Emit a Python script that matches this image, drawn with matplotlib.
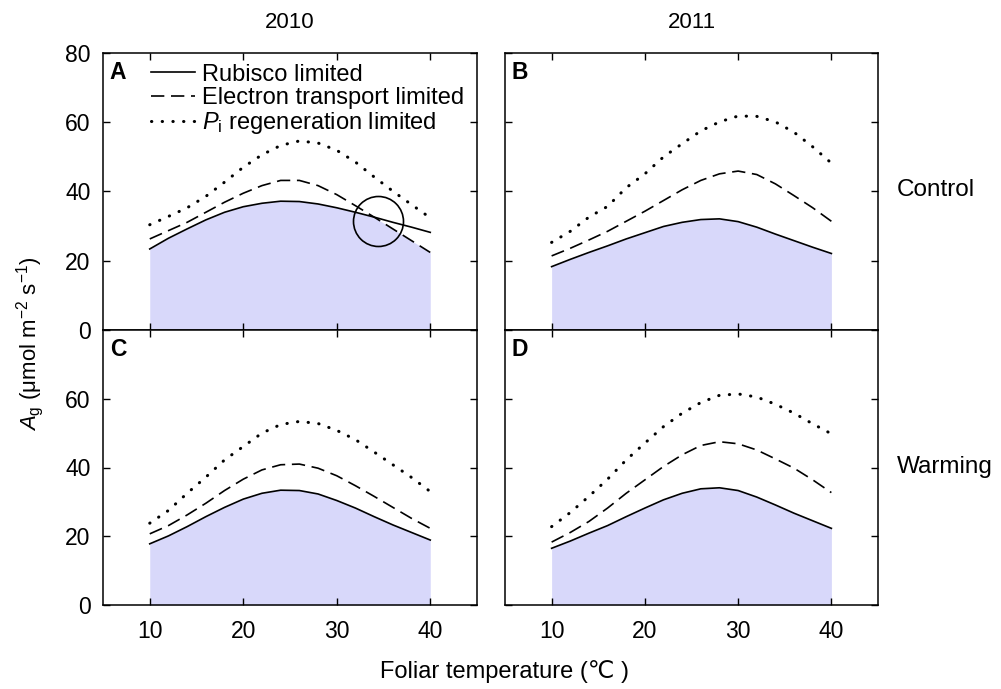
import numpy as np
import matplotlib
matplotlib.use("Agg")
import matplotlib.pyplot as plt
from matplotlib.lines import Line2D

plt.rcParams['font.family'] = ['Liberation Sans', 'DejaVu Sans']
plt.rcParams['mathtext.fontset'] = 'custom'
plt.rcParams['mathtext.rm'] = 'Liberation Sans'
plt.rcParams['mathtext.it'] = 'Liberation Sans:italic'
plt.rcParams['mathtext.bf'] = 'Liberation Sans:bold'

# ---------------- data ----------------
temperature = [10, 12, 14, 16, 18, 20, 22, 24, 26, 28, 30, 32, 34, 36, 38, 40]

# Panel A: 2010 Control
a_rubisco  = [23.4, 26.5, 29.2, 31.8, 34.0, 35.6, 36.6, 37.2, 37.1, 36.4, 35.3, 34.0, 32.6, 31.1, 29.7, 28.2]
a_electron = [26.3, 28.7, 31.1, 34.0, 36.9, 39.5, 41.7, 43.2, 43.2, 41.7, 39.1, 35.9, 32.6, 29.2, 25.8, 22.4]
a_pi       = [30.4, 32.8, 35.3, 38.6, 42.7, 47.0, 50.6, 53.3, 54.6, 54.0, 51.9, 48.5, 44.2, 40.1, 36.2, 32.4]

# Panel B: 2011 Control
b_rubisco  = [18.3, 20.4, 22.4, 24.3, 26.3, 28.1, 29.9, 31.1, 31.9, 32.1, 31.3, 29.7, 27.7, 25.8, 23.9, 22.1]
b_electron = [21.4, 23.6, 26.0, 28.5, 31.4, 34.3, 37.4, 40.5, 43.2, 45.1, 45.9, 44.9, 42.2, 38.8, 35.3, 31.4]
b_pi       = [25.3, 28.5, 32.6, 35.7, 41.1, 45.1, 50.0, 53.8, 57.5, 60.1, 61.8, 61.7, 60.1, 57.1, 52.9, 48.2]

# Panel C: 2010 Warming
c_rubisco  = [17.8, 20.1, 22.8, 25.7, 28.4, 30.8, 32.5, 33.4, 33.3, 32.3, 30.4, 28.2, 25.7, 23.3, 21.1, 18.9]
c_electron = [20.7, 23.1, 26.2, 29.6, 33.3, 36.6, 39.3, 40.8, 41.0, 39.8, 37.6, 34.7, 31.6, 28.4, 25.2, 22.3]
c_pi       = [23.8, 27.5, 32.5, 37.2, 42.2, 46.1, 50.0, 52.5, 53.4, 52.8, 50.8, 48.1, 44.5, 40.8, 37.1, 33.0]

# Panel D: 2011 Warming
d_rubisco  = [16.5, 18.6, 20.9, 23.1, 25.7, 28.2, 30.6, 32.5, 33.8, 34.1, 33.3, 31.4, 29.1, 26.7, 24.5, 22.3]
d_electron = [18.3, 21.1, 24.3, 28.2, 32.5, 36.4, 40.3, 43.7, 46.4, 47.5, 46.9, 45.1, 42.5, 39.8, 36.4, 32.7]
d_pi       = [22.8, 26.9, 31.6, 36.6, 42.2, 47.1, 51.9, 55.8, 58.9, 61.0, 61.4, 60.5, 58.4, 55.8, 52.7, 49.8]

panel_letters = ['A', 'B', 'C', 'D']
column_titles = ['2010', '2011']
row_titles = ['Control', 'Warming']
series_labels = ['Rubisco limited', 'Electron transport limited',
                 '$P_\\mathrm{i}$ regeneration limited']
x_ticks = [10, 20, 30, 40]
y_ticks = [0, 20, 40, 60, 80]
circle_point = (34.4, 31.6)  # highlighted transition in panel A

panels = [(a_rubisco, a_electron, a_pi),
          (b_rubisco, b_electron, b_pi),
          (c_rubisco, c_electron, c_pi),
          (d_rubisco, d_electron, d_pi)]

# ---------------- figure ----------------
fig = plt.figure(figsize=(10.01, 6.89), dpi=100)
W, H = 1001, 689
lefts = [103, 505]
rights = [477, 878]
tops = [53, 330]
bottoms = [330, 605]

fill_color = '#d8d8fa'
T = np.array(temperature)
lw = 1.2
dash_e = (0, (8, 4))
dot_p = (0, (0.1, 3.4))

for i in range(4):
    r, c = divmod(i, 2)
    x0 = lefts[c] / W
    w = (rights[c] - lefts[c]) / W
    y0 = 1 - bottoms[r] / H
    h = (bottoms[r] - tops[r]) / H
    ax = fig.add_axes([x0, y0, w, h])
    rub, ele, pi = [np.array(s) for s in panels[i]]
    lower = np.minimum(np.minimum(rub, ele), pi)
    ax.fill_between(T, 0, lower, color=fill_color, lw=0, zorder=1)
    ax.plot(T, rub, color='black', lw=lw, ls='-', zorder=3)
    ax.plot(T, ele, color='black', lw=lw, ls=dash_e, zorder=3)
    ax.plot(T, pi, color='black', lw=2.2, ls=dot_p,
            dash_capstyle='round', zorder=3)
    ax.set_xlim(5, 45)
    ax.set_ylim(0, 80)
    ax.set_xticks(x_ticks)
    ax.set_yticks(y_ticks)
    ax.tick_params(direction='in', top=True, right=True, length=5,
                   width=1.0, labelsize=16.5)
    ax.tick_params(axis='x', pad=11)
    ax.tick_params(axis='y', pad=9)
    if r == 0:
        ax.tick_params(labelbottom=False)
    if c == 1:
        ax.tick_params(labelleft=False)
    if r == 1 and c == 0:
        ax.set_yticklabels([str(v) if v != 80 else '' for v in y_ticks])
    for sp in ax.spines.values():
        sp.set_linewidth(1.1)
    ax.text(0.04, 0.928, panel_letters[i], transform=ax.transAxes,
            fontsize=16.5, fontweight='bold', ha='center', va='center')
    if i == 0:
        ax.plot([circle_point[0]], [circle_point[1]], marker='o', ms=36,
                mfc='none', mec='black', mew=1.2, zorder=4)
        handles = [Line2D([], [], color='black', lw=lw, ls='-'),
                   Line2D([], [], color='black', lw=lw, ls=dash_e),
                   Line2D([], [], color='black', lw=2.2, ls=dot_p,
                          dash_capstyle='round')]
        ax.legend(handles, series_labels, loc='upper left',
                  bbox_to_anchor=(0.128, 0.962), frameon=False, fontsize=17,
                  handlelength=1.85, handletextpad=0.3, labelspacing=0.06,
                  borderpad=0, borderaxespad=0)

# column / row titles
for c in range(2):
    xc = (lefts[c] + rights[c]) / 2 / W
    fig.text(xc, 1 - 22 / H, column_titles[c], fontsize=16, ha='center', va='center')
fig.text(897 / W, 1 - 190 / H, row_titles[0], fontsize=17.5, ha='left', va='center')
fig.text(897 / W, 1 - 467 / H, row_titles[1], fontsize=17.5, ha='left', va='center')

fig.text(505 / W, 1 - 672 / H, 'Foliar temperature (\u2103 )', fontsize=17,
         ha='center', va='center')
fig.text(30 / W, 1 - 344 / H, '$A_\\mathrm{g}$ (\u03bcmol m$^{-2}$ s$^{-1}$)',
         fontsize=16, ha='center', va='center', rotation=90)

fig.savefig('out.png', dpi=100)
